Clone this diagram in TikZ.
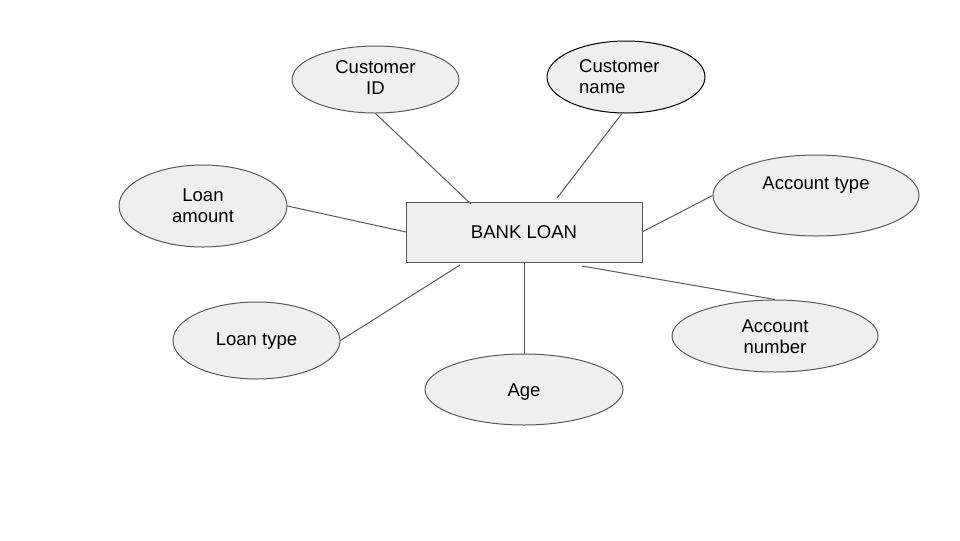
\documentclass[tikz,border=0pt]{standalone}
\usepackage{fontspec}
\setmainfont{Liberation Sans}
\usetikzlibrary{shapes.geometric}
\definecolor{fillgray}{HTML}{EFEFEF}
\definecolor{edgegray}{HTML}{595959}
\begin{document}
\begin{tikzpicture}[x=0.75pt,y=-0.75pt,
  every node/.style={font=\fontsize{13.9pt}{15.75pt}\selectfont},
  every label/.style={align=center, inner sep=0pt},
  attr/.style={ellipse, draw=edgegray, fill=fillgray, line width=0.75pt, inner sep=0pt},
  entity/.style={rectangle, draw=edgegray, fill=fillgray, line width=0.75pt, inner sep=0pt},
  link/.style={draw=edgegray, line width=0.75pt}]
\useasboundingbox[fill=white] (0,0) rectangle (960,540);
\node[entity, minimum width=177pt, minimum height=45pt] (bank) at (524,232) {BANK LOAN};
\node[attr, minimum width=125.25pt, minimum height=50.25pt, label={[yshift=1.5pt]center:Customer\\ID}] (cid) at (375.5,79.5) {};
\node[attr, draw=black, minimum width=118.5pt, minimum height=54pt, label={[xshift=-5pt,align=left]center:Customer\\name}] (cname) at (626,77) {};
\node[attr, minimum width=126pt, minimum height=61.5pt, label={center:Loan\\amount}] (lamt) at (203,206) {};
\node[attr, minimum width=154.5pt, minimum height=60.75pt, label={[yshift=7.5pt]center:Account type}] (atype) at (816,195.5) {};
\node[attr, minimum width=125.25pt, minimum height=57.75pt, label={[yshift=-0.5pt]center:Loan type}] (ltype) at (256.5,340.5) {};
\node[attr, minimum width=148.5pt, minimum height=53.25pt, label={[yshift=-2pt]center:Age}] (age) at (524,389.5) {};
\node[attr, minimum width=154.5pt, minimum height=54pt, label={[yshift=-0.75pt]center:Account\\number}] (anum) at (775,336) {};
\coordinate (b1) at (471,204);
\coordinate (b2) at (557,198);
\coordinate (b3) at (406,232);
\coordinate (b4) at (642,232);
\coordinate (b5) at (460,265);
\coordinate (b6) at (524,262);
\coordinate (b7) at (582,266);
\draw[link] (cid.south) -- (b1);
\draw[link] (cname.south) ++(-4,0) -- (b2);
\draw[link] (lamt.east) -- (b3);
\draw[link] (atype.west) -- (b4);
\draw[link] (ltype.east) -- (b5);
\draw[link] (age.north) -- (b6);
\draw[link] (anum.north) -- (b7);
\end{tikzpicture}
\end{document}
